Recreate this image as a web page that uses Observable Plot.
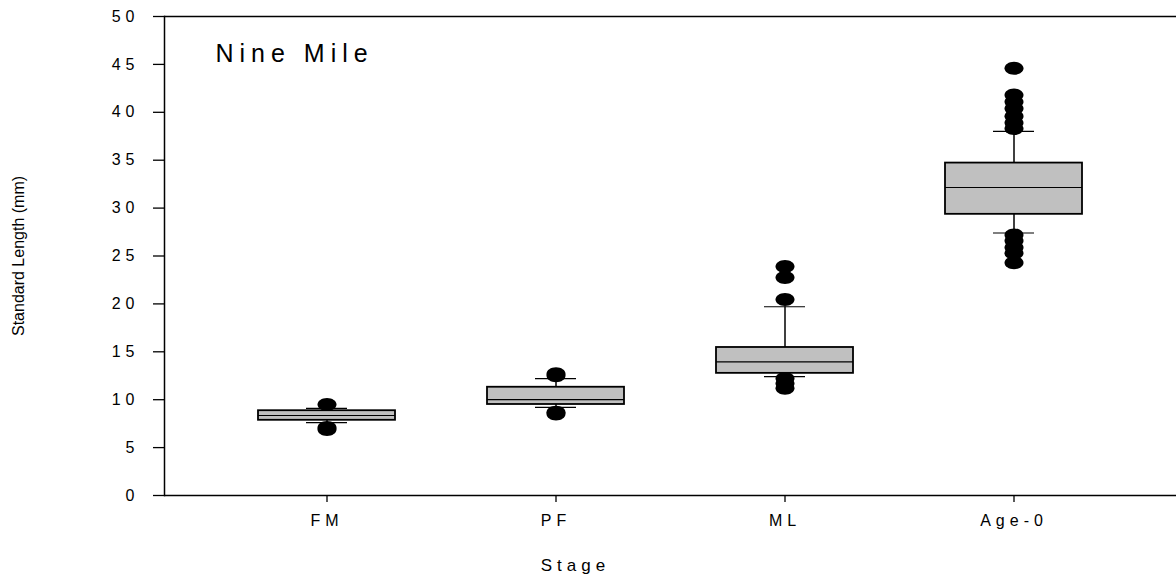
<!DOCTYPE html>
<html>
<head>
<meta charset="utf-8">
<script src="https://cdn.jsdelivr.net/npm/d3@7"></script>
<script src="https://cdn.jsdelivr.net/npm/@observablehq/plot@0.6"></script>
<style>
  html, body { margin: 0; background: #fff; overflow: hidden; }
  #chart svg { display: block; }
  #chart g[aria-label="y-axis tick label"] text,
  #chart g[aria-label="x-axis tick label"] text { letter-spacing: 5px; }
</style>
</head>
<body>
<div id="chart"></div>
<script>
const stages = ["FM", "PF", "ML", "Age-0"];
const q1 = [7.85, 9.5, 12.75, 29.35];
const median = [8.35, 10.0, 13.95, 32.15];
const q3 = [8.85, 11.3, 15.45, 34.7];
const whiskerLow = [7.6, 9.2, 12.4, 27.4];
const whiskerHigh = [9.1, 12.2, 19.7, 38.0];
const outlierStage = ["FM","FM","FM","PF","PF","PF","PF","ML","ML","ML","ML","ML","ML",
  "Age-0","Age-0","Age-0","Age-0","Age-0","Age-0","Age-0","Age-0","Age-0","Age-0","Age-0","Age-0"];
const outlierValue = [9.5, 7.1, 6.9, 12.7, 12.5, 8.7, 8.5, 23.9, 22.75, 20.45, 12.2, 11.7, 11.2,
  44.6, 41.8, 41.1, 40.4, 39.6, 38.9, 38.3, 27.2, 26.6, 25.9, 25.3, 24.3];
const yTicks = [0, 5, 10, 15, 20, 25, 30, 35, 40, 45, 50];
const title = "Nine Mile";
const xLabel = "Stage";
const yLabel = "Standard Length (mm)";

const boxes = stages.map((s, i) => ({stage: s, q1: q1[i], median: median[i], q3: q3[i], lo: whiskerLow[i], hi: whiskerHigh[i]}));
const outliers = outlierStage.map((s, i) => ({stage: s, value: outlierValue[i]}));

const ellipse = {
  draw(ctx) {
    const rx = 9.5, ry = 6.5, k = 0.5523;
    ctx.moveTo(rx, 0);
    ctx.bezierCurveTo(rx, ry * k, rx * k, ry, 0, ry);
    ctx.bezierCurveTo(-rx * k, ry, -rx, ry * k, -rx, 0);
    ctx.bezierCurveTo(-rx, -ry * k, -rx * k, -ry, 0, -ry);
    ctx.bezierCurveTo(rx * k, -ry, rx, -ry * k, rx, 0);
    ctx.closePath();
  }
};

const chart = Plot.plot({
  width: 1176,
  height: 579,
  marginLeft: 164,
  marginRight: 0,
  marginTop: 16,
  marginBottom: 84,
  style: {fontFamily: "'Liberation Sans', Arial, sans-serif", fontSize: "16px", color: "#000", background: "#fff"},
  x: {type: "band", domain: stages, paddingInner: 0.4, paddingOuter: 0.4},
  y: {domain: [0, 50]},
  marks: [
    Plot.axisY({ticks: yTicks, tickSize: 11, tickPadding: 14, tickFormat: d => String(d), strokeWidth: 1.3,
      label: null, fontSize: 16}),
    Plot.axisX({tickSize: 7, tickPadding: 12, strokeWidth: 1.3, label: null, fontSize: 16}),
    Plot.ruleY([0], {strokeWidth: 1.5}),
    Plot.ruleY([50], {strokeWidth: 1.5}),
    Plot.frame({anchor: "left", strokeWidth: 1.5}),
    Plot.ruleX(boxes, {x: "stage", y1: "q3", y2: "hi", strokeWidth: 1.5}),
    Plot.ruleX(boxes, {x: "stage", y1: "lo", y2: "q1", strokeWidth: 1.5}),
    Plot.tickY(boxes, {x: "stage", y: "hi", insetLeft: 48, insetRight: 48, strokeWidth: 1.2}),
    Plot.tickY(boxes, {x: "stage", y: "lo", insetLeft: 48, insetRight: 48, strokeWidth: 1.2}),
    Plot.barY(boxes, {x: "stage", y1: "q1", y2: "q3", fill: "#c0c0c0", stroke: "#000", strokeWidth: 1.8}),
    Plot.tickY(boxes, {x: "stage", y: "median", strokeWidth: 1.2}),
    Plot.dot(outliers, {x: "stage", y: "value", symbol: ellipse, fill: "#000", stroke: "none"}),
    Plot.text([title], {frameAnchor: "top-left", dx: 51, dy: 37, textAnchor: "start", lineAnchor: "middle",
      fontSize: 25, fill: "#000"}),
    Plot.text([xLabel], {frameAnchor: "bottom", dx: -95, dy: 70, lineAnchor: "middle",
      fontSize: 17, fill: "#000"}),
    Plot.text([yLabel], {frameAnchor: "left", dx: -146, rotate: -90, textAnchor: "middle", lineAnchor: "middle",
      fontSize: 16, fill: "#000"})
  ]
});
d3.select(chart).selectAll("text").each(function() {
  const t = this.textContent;
  if (t === title) this.style.letterSpacing = "6px";
  if (t === xLabel) this.style.letterSpacing = "5px";
});
document.getElementById("chart").append(chart);
</script>
</body>
</html>
